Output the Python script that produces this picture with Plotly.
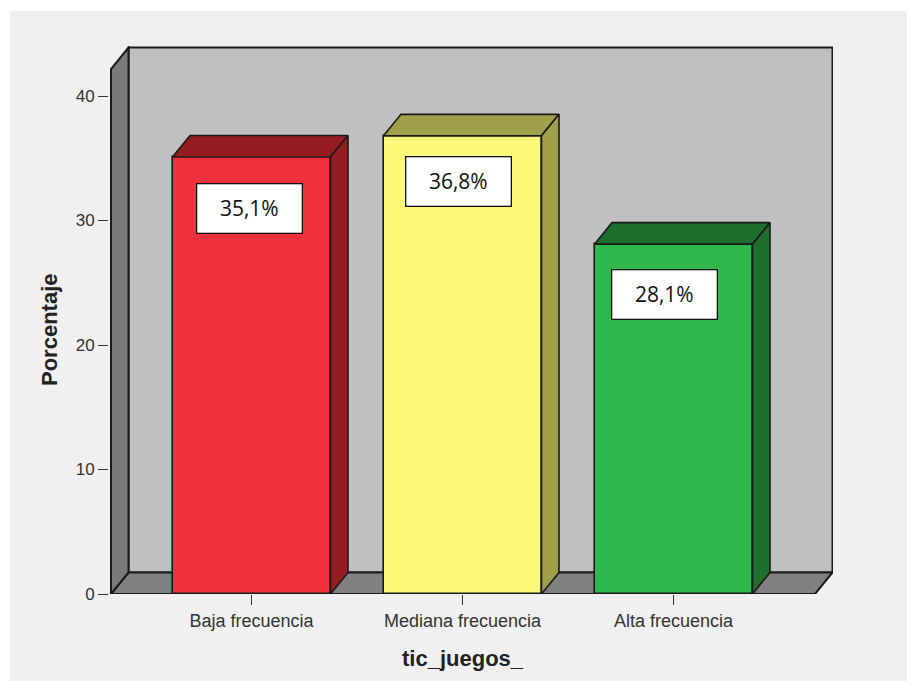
import plotly.graph_objects as go

# ---------------- data ----------------
categories = ["Baja frecuencia", "Mediana frecuencia", "Alta frecuencia"]
percentages = [35.1, 36.8, 28.1]
label_texts = ["35,1%", "36,8%", "28,1%"]
y_ticks = [0, 10, 20, 30, 40]
x_title = "tic_juegos_"
y_title = "Porcentaje"

front_colors = ["#f0313b", "#fcf87a", "#2eb84b"]
dark_colors = ["#961c21", "#a09f4a", "#1e6f2e"]

# ---------------- geometry (pixels -> data) ----------------
W, H = 907, 681
L, R, T, B = 109, 833, 46, 594          # plot area in px
cx0, step = 251.5, 211.0                # px centre of first category, px per category
ypx = 12.45                             # px per percentage unit


def X(p):
    return (p - cx0) / step


def Y(p):
    return (B - p) / ypx


xr = [X(L), X(R)]
yr = [0, Y(T)]
dx = 17.5 / step
dy = 21.5 / ypx
bw = 158 / step
wall_top = Y(69)
xa, xb = X(111), X(815)
edge = "#1a1a1a"

fig = go.Figure()

# front faces
fig.add_trace(go.Bar(
    x=list(range(len(categories))), y=percentages, width=bw,
    marker=dict(color=front_colors, line=dict(color=edge, width=1.6)),
    hoverinfo="skip", showlegend=False))

# top and side faces
for i, v in enumerate(percentages):
    x0, x1 = i - bw / 2, i + bw / 2
    fig.add_trace(go.Scatter(
        x=[x0, x1, x1 + dx, x0 + dx, x0], y=[v, v, v + dy, v + dy, v],
        mode="lines", fill="toself", fillcolor=dark_colors[i],
        line=dict(color=edge, width=1.6), hoverinfo="skip", showlegend=False))
    fig.add_trace(go.Scatter(
        x=[x1, x1, x1 + dx, x1 + dx, x1], y=[0, v, v + dy, dy, 0],
        mode="lines", fill="toself", fillcolor=dark_colors[i],
        line=dict(color=edge, width=1.6), hoverinfo="skip", showlegend=False))


def path(pts):
    return "M " + " L ".join(f"{a},{b}" for a, b in pts) + " Z"


def PX(p):
    return (p - L) / (R - L)


def PY(p):
    return (B - p) / (B - T)


shapes = [
    # light grey background panel
    dict(type="rect", xref="paper", yref="paper", layer="below",
         x0=PX(10), x1=PX(W + 5), y0=PY(H + 5), y1=PY(11),
         fillcolor="#f0f0f0", line=dict(width=0)),
    # back wall
    dict(type="rect", xref="x", yref="y", layer="below",
         x0=xa + dx, x1=xb + dx, y0=dy, y1=wall_top + dy,
         fillcolor="#c0c0c0", line=dict(color=edge, width=2)),
    # floor
    dict(type="path", xref="x", yref="y", layer="below",
         path=path([(xa, 0), (xb, 0), (xb + dx, dy), (xa + dx, dy)]),
         fillcolor="#808080", line=dict(color=edge, width=2)),
    # left wall
    dict(type="path", xref="x", yref="y", layer="below",
         path=path([(xa, 0), (xa, wall_top), (xa + dx, wall_top + dy), (xa + dx, dy)]),
         fillcolor="#7a7a7a", line=dict(color=edge, width=2)),
]

label_shift = [(-2, -51), (-4, -46), (-9, -50)]
annotations = []
for i, (v, t) in enumerate(zip(percentages, label_texts)):
    sx, sy = label_shift[i]
    annotations.append(dict(
        x=i, y=v, xref="x", yref="y", text=t, showarrow=False,
        xshift=sx, yshift=sy, width=100, height=44, borderpad=2,
        bgcolor="white", bordercolor="#111111", borderwidth=1.3,
        font=dict(family="Open Sans", size=21, color="#111111")))

# axis titles
title_font = dict(family="Liberation Sans", size=22, weight="bold", color="#222222")
annotations.append(dict(x=PX(463), y=PY(658), xref="paper", yref="paper",
                        text=x_title, showarrow=False, font=title_font,
                        xanchor="center", yanchor="middle"))
annotations.append(dict(x=PX(50), y=PY(330), xref="paper", yref="paper",
                        text=y_title, showarrow=False, font=title_font, textangle=-90,
                        xanchor="center", yanchor="middle"))

fig.update_layout(
    width=W, height=H,
    margin=dict(l=L, r=W - R, t=T, b=H - B, pad=0),
    paper_bgcolor="white", plot_bgcolor="rgba(0,0,0,0)",
    shapes=shapes, annotations=annotations, bargap=0,
    font=dict(family="Liberation Sans", color="#333333"),
    xaxis=dict(range=xr, tickvals=list(range(len(categories))), ticktext=categories,
               showgrid=False, zeroline=False, showline=False,
               ticks="outside", ticklen=10, tickwidth=1.3, tickcolor="#333333",
               tickfont=dict(size=18, color="#333333")),
    yaxis=dict(range=yr, tickvals=y_ticks, showgrid=False, zeroline=False,
               showline=False, ticks="outside", ticklen=10, tickwidth=1.3,
               tickcolor="#333333", tickfont=dict(size=17, color="#333333")),
)

fig.write_html("out.html")
